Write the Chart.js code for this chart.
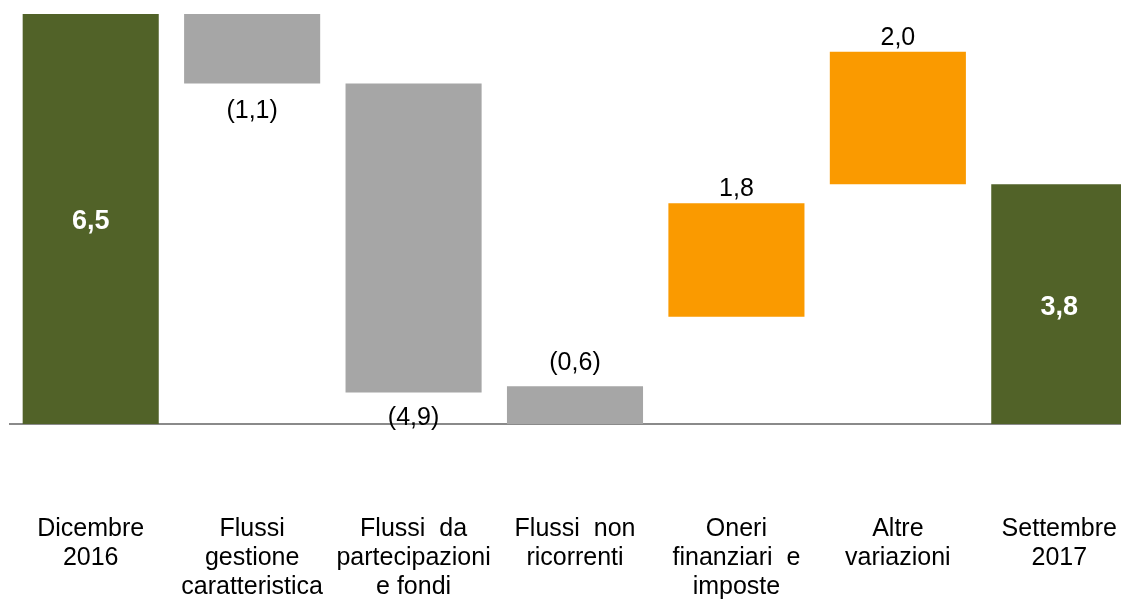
<!DOCTYPE html>
<html>
<head>
<meta charset="utf-8">
<script src="https://cdn.jsdelivr.net/npm/chart.js@4.4.1/dist/chart.umd.min.js"></script>
<style>
  html, body { margin: 0; padding: 0; background: #fff; overflow: hidden; }
  #wrap { width: 1140px; height: 600px; position: relative; }
</style>
</head>
<body>
<div id="wrap"><canvas id="c"></canvas></div>
<script>
// ---- data ----
const categories = [
  ['Dicembre', '2016'],
  ['Flussi', 'gestione', 'caratteristica'],
  ['Flussi  da', 'partecipazioni', 'e fondi'],
  ['Flussi  non', 'ricorrenti'],
  ['Oneri', 'finanziari  e', 'imposte'],
  ['Altre', 'variazioni'],
  ['Settembre', '2017']
];
const barStart = [0, 5.4, 0.5, 0, 1.7, 3.8, 0];
const barEnd   = [6.5, 6.5, 5.4, 0.6, 3.5, 5.9, 3.8];
const valueLabels = ['6,5', '(1,1)', '(4,9)', '(0,6)', '1,8', '2,0', '3,8'];
const barKind = ['total', 'down', 'down', 'down', 'up', 'up', 'total'];

// ---- styling ----
const kindColor = { total: '#516228', down: '#a6a6a6', up: '#fa9a00' };
const labelPlacement = [
  ['inside', 0], ['below', 15], ['below', 13], ['above', 16],
  ['above', 7], ['above', 7], ['inside', 0]
];

const valueLabelPlugin = {
  id: 'valueLabels',
  afterDatasetsDraw(chart) {
    const ctx = chart.ctx;
    const meta = chart.getDatasetMeta(0);
    meta.data.forEach((bar, i) => {
      const [place, gap] = labelPlacement[i];
      const top = Math.min(bar.y, bar.base);
      const bottom = Math.max(bar.y, bar.base);
      ctx.save();
      ctx.textAlign = 'center';
      if (place === 'inside') {
        ctx.font = 'bold 27px "Liberation Sans", Arial, sans-serif';
        ctx.fillStyle = '#ffffff';
        ctx.textBaseline = 'middle';
        ctx.fillText(valueLabels[i], bar.x, (top + bottom) / 2 + 3);
      } else if (place === 'above') {
        ctx.font = '25px "Liberation Sans", Arial, sans-serif';
        ctx.fillStyle = '#000000';
        ctx.textBaseline = 'alphabetic';
        ctx.fillText(valueLabels[i], bar.x, top - gap);
      } else {
        ctx.font = '25px "Liberation Sans", Arial, sans-serif';
        ctx.fillStyle = '#000000';
        ctx.textBaseline = 'top';
        ctx.fillText(valueLabels[i], bar.x, bottom + gap);
      }
      ctx.restore();
    });
  }
};

new Chart(document.getElementById('c'), {
  type: 'bar',
  data: {
    labels: categories,
    datasets: [{
      data: barStart.map((s, i) => [s, barEnd[i]]),
      backgroundColor: barKind.map(k => kindColor[k]),
      borderWidth: 0,
      categoryPercentage: 1.0,
      barPercentage: 0.843
    }]
  },
  options: {
    responsive: true,
    maintainAspectRatio: false,
    animation: false,
    layout: { padding: { left: 10, right: 0, top: 14, bottom: 0 } },
    plugins: { legend: { display: false }, tooltip: { enabled: false } },
    scales: {
      x: {
        z: 1,
        grid: { display: true, drawOnChartArea: false, drawTicks: true, tickLength: 89, color: 'rgba(0,0,0,0)' },
        border: { display: true, color: '#8a8a8a', width: 2 },
        ticks: {
          color: '#000',
          padding: 2,
          maxRotation: 0,
          autoSkip: false,
          font: { family: '"Liberation Sans", Arial, sans-serif', size: 25, lineHeight: 1.16 }
        },
        afterFit: (scale) => { scale.height = 176; scale.paddingLeft = 0; scale.paddingRight = 0; }
      },
      y: {
        display: false,
        min: 0,
        max: 6.5
      }
    }
  },
  plugins: [valueLabelPlugin]
});
</script>
</body>
</html>
